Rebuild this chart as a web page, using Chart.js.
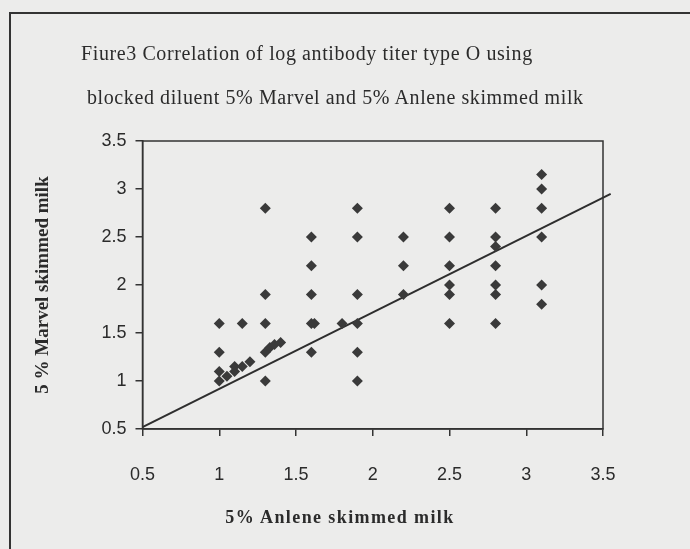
<!DOCTYPE html>
<html>
<head>
<meta charset="utf-8">
<script src="https://cdn.jsdelivr.net/npm/chart.js@4.4.1/dist/chart.umd.min.js"></script>
<style>
    html, body { margin: 0; padding: 0; }
    body { width: 690px; height: 549px; background: #ececeb; position: relative; overflow: hidden; }
    #frame { position: absolute; left: 9px; top: 12px; width: 720px; height: 580px; border-left: 2px solid #333; border-top: 2px solid #333; }
    #chart { position: absolute; left: 0; top: 0; }
    .txt { position: absolute; color: #2b2b2b; font-family: "Liberation Serif", "Times New Roman", serif; white-space: nowrap; }
    #title1 { left: 81px; top: 41px; font-size: 20px; line-height: 24px; letter-spacing: 0.6px; }
    #title2 { left: 87px; top: 85px; font-size: 20px; line-height: 24px; letter-spacing: 0.6px; }
    #xTitle { left: 340px; top: 506px; transform: translateX(-50%); font-size: 18px; line-height: 22px; font-weight: bold; letter-spacing: 1.4px; }
</style>
</head>
<body>
<div id="frame"></div>
<canvas id="chart" width="690" height="549"></canvas>
<div class="txt" id="title1">Fiure3 Correlation of log antibody titer type O using</div>
<div class="txt" id="title2">blocked diluent 5% Marvel and 5% Anlene skimmed milk</div>
<div class="txt" id="xTitle">5% Anlene skimmed milk</div>
<script>
// valeurs (x = Anlene, y = Marvel)
const anleneValues = [
    1.0, 1.0, 1.0, 1.0, 1.05, 1.1, 1.1, 1.15, 1.2, 1.15,
    1.3, 1.3, 1.3, 1.3, 1.3, 1.33, 1.36, 1.4,
    1.6, 1.6, 1.6, 1.6, 1.62, 1.6, 1.8,
    1.9, 1.9, 1.9, 1.9, 1.9, 1.9,
    2.2, 2.2, 2.2,
    2.5, 2.5, 2.5, 2.5, 2.5, 2.5,
    2.8, 2.8, 2.8, 2.8, 2.8, 2.8, 2.8,
    3.1, 3.1, 3.1, 3.1, 3.1, 3.1
];
const marvelValues = [
    1.6, 1.3, 1.1, 1.0, 1.05, 1.1, 1.15, 1.15, 1.2, 1.6,
    2.8, 1.9, 1.6, 1.3, 1.0, 1.35, 1.38, 1.4,
    2.5, 2.2, 1.9, 1.6, 1.6, 1.3, 1.6,
    2.8, 2.5, 1.9, 1.6, 1.3, 1.0,
    2.5, 2.2, 1.9,
    2.8, 2.5, 2.2, 2.0, 1.9, 1.6,
    2.8, 2.5, 2.4, 2.2, 2.0, 1.9, 1.6,
    3.15, 3.0, 2.8, 2.5, 2.0, 1.8
];
// droite de tendance (extrémités)
const trendX = [0.5, 3.55];
const trendY = [0.52, 2.95];
// graduations des deux axes
const tickValues = [0.5, 1, 1.5, 2, 2.5, 3, 3.5];
const tickLabels = ['0.5', '1', '1.5', '2', '2.5', '3', '3.5'];

const ink = '#333333';

// cadre autour de la zone du graphique
const plotFrame = {
    id: 'plotFrame',
    afterDraw(chart) {
        const { ctx, chartArea } = chart;
        ctx.save();
        ctx.strokeStyle = ink;
        ctx.lineWidth = 1.5;
        ctx.strokeRect(chartArea.left, chartArea.top, chartArea.right - chartArea.left, chartArea.bottom - chartArea.top);
        ctx.restore();
    }
};

function tickLabel(value) {
    const i = tickValues.findIndex(v => Math.abs(v - value) < 1e-6);
    return i >= 0 ? tickLabels[i] : '';
}

function buildChart() {
    const ctx = document.getElementById('chart').getContext('2d');
    const points = anleneValues.map((x, i) => ({ x: x, y: marvelValues[i] }));
    const trend = trendX.map((x, i) => ({ x: x, y: trendY[i] }));
    const axisMin = tickValues[0];
    const axisMax = tickValues[tickValues.length - 1];
    const axisStep = tickValues[1] - tickValues[0];

    new Chart(ctx, {
        type: 'scatter',
        data: {
            datasets: [{
                label: 'Titres',
                data: points,
                pointStyle: 'rectRot',
                pointRadius: 5.5,
                backgroundColor: '#3a3a3a',
                borderColor: '#3a3a3a',
                borderWidth: 0
            }, {
                type: 'line',
                label: 'Tendance',
                data: trend,
                borderColor: '#2e2e2e',
                borderWidth: 2,
                pointRadius: 0,
                fill: false,
                clip: false
            }]
        },
        options: {
            responsive: false,
            animation: false,
            devicePixelRatio: 1,
            layout: { padding: { left: 0, right: 87, top: 141, bottom: 0 } },
            plugins: {
                legend: { display: false },
                tooltip: { enabled: false }
            },
            scales: {
                x: {
                    type: 'linear',
                    min: axisMin,
                    max: axisMax,
                    afterFit: s => { s.height = 120; },
                    ticks: {
                        stepSize: axisStep,
                        padding: 28,
                        color: '#2b2b2b',
                        font: { family: 'Liberation Sans', size: 18 },
                        callback: tickLabel
                    },
                    grid: { drawOnChartArea: false, tickLength: 7, color: ink, lineWidth: 1.5 },
                    border: { color: ink, width: 1.5 }
                },
                y: {
                    type: 'linear',
                    min: axisMin,
                    max: axisMax,
                    afterFit: s => { s.width = 142.5; },
                    ticks: {
                        stepSize: axisStep,
                        padding: 9,
                        color: '#2b2b2b',
                        font: { family: 'Liberation Sans', size: 18 },
                        callback: tickLabel
                    },
                    grid: { drawOnChartArea: false, tickLength: 7, color: ink, lineWidth: 1.5 },
                    border: { color: ink, width: 1.5 },
                    title: {
                        display: true,
                        text: '5 % Marvel skimmed milk',
                        color: '#2b2b2b',
                        padding: { top: 32, bottom: 0 },
                        font: { family: 'Liberation Serif', size: 19, weight: 'bold' }
                    }
                }
            }
        },
        plugins: [plotFrame]
    });
}

document.addEventListener('DOMContentLoaded', () => {
    buildChart();
});
</script>
</body>
</html>
